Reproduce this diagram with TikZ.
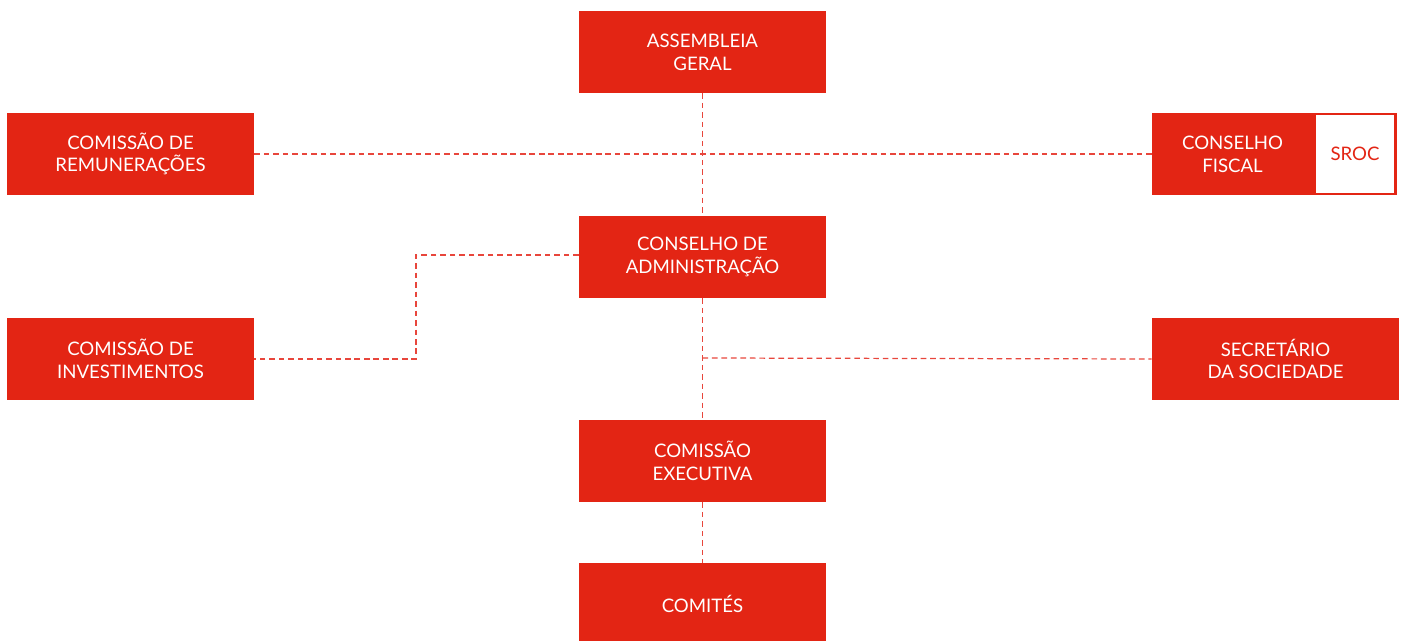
\documentclass[tikz,border=0pt]{standalone}
\usepackage{fontspec}
\setmainfont{Lato}
\usetikzlibrary{positioning}
\definecolor{orgred}{HTML}{E32514}
\definecolor{linkred}{HTML}{E8463C}
\tikzset{
  orgbox/.style={fill=orgred, text=white, align=center, minimum width=4.94cm, minimum height=1.64cm, inner sep=0pt, font=\fontsize{10.6}{13}\selectfont},
  smallbox/.style={orgbox, minimum width=3.22cm},
  srocbox/.style={draw=orgred, fill=white, text=orgred, line width=1.2pt, minimum width=1.62cm, minimum height=1.6cm, inner sep=0pt, font=\fontsize{10.6}{13}\selectfont},
  link/.style={draw=linkred, line width=0.7pt, dash pattern=on 3.2pt off 2.2pt}
}
\begin{document}
\begin{tikzpicture}[x=0.02cm, y=-0.02cm]
  \useasboundingbox (0,0) rectangle (1402,641);
  % boxes
  \node[orgbox] (assembleia) at (702.5,52) {ASSEMBLEIA\\GERAL};
  \node[orgbox] (remuneracoes) at (130.5,154) {COMISSÃO DE\\REMUNERAÇÕES};
  \node[smallbox] (fiscal) at (1232.5,154) {CONSELHO\\FISCAL};
  \node[srocbox] (sroc) at (1355,154) {SROC};
  \node[orgbox] (administracao) at (702.5,257) {CONSELHO DE\\ADMINISTRAÇÃO};
  \node[orgbox] (investimentos) at (130.5,359) {COMISSÃO DE\\INVESTIMENTOS};
  \node[orgbox] (secretario) at (1275.5,359) {SECRETÁRIO\\DA SOCIEDADE};
  \node[orgbox] (executiva) at (702.5,461) {COMISSÃO\\EXECUTIVA};
  \node[orgbox] (comites) at (702.5,604) {COMITÉS};
  % links
  \coordinate (invcorner) at (416,255);
  \coordinate (seccorner) at (702.5,358);
  \path[link] (assembleia.south) -- (administracao.north);
  \path[link] (remuneracoes.east) -- (fiscal.west);
  \path[link] (administracao.west |- invcorner) -- (invcorner) |- (investimentos.east);
  \path[link] (administracao.south) -- (executiva.north);
  \path[link] (seccorner) -- (secretario.west);
  \path[link] (executiva.south) -- (comites.north);
\end{tikzpicture}
\end{document}
